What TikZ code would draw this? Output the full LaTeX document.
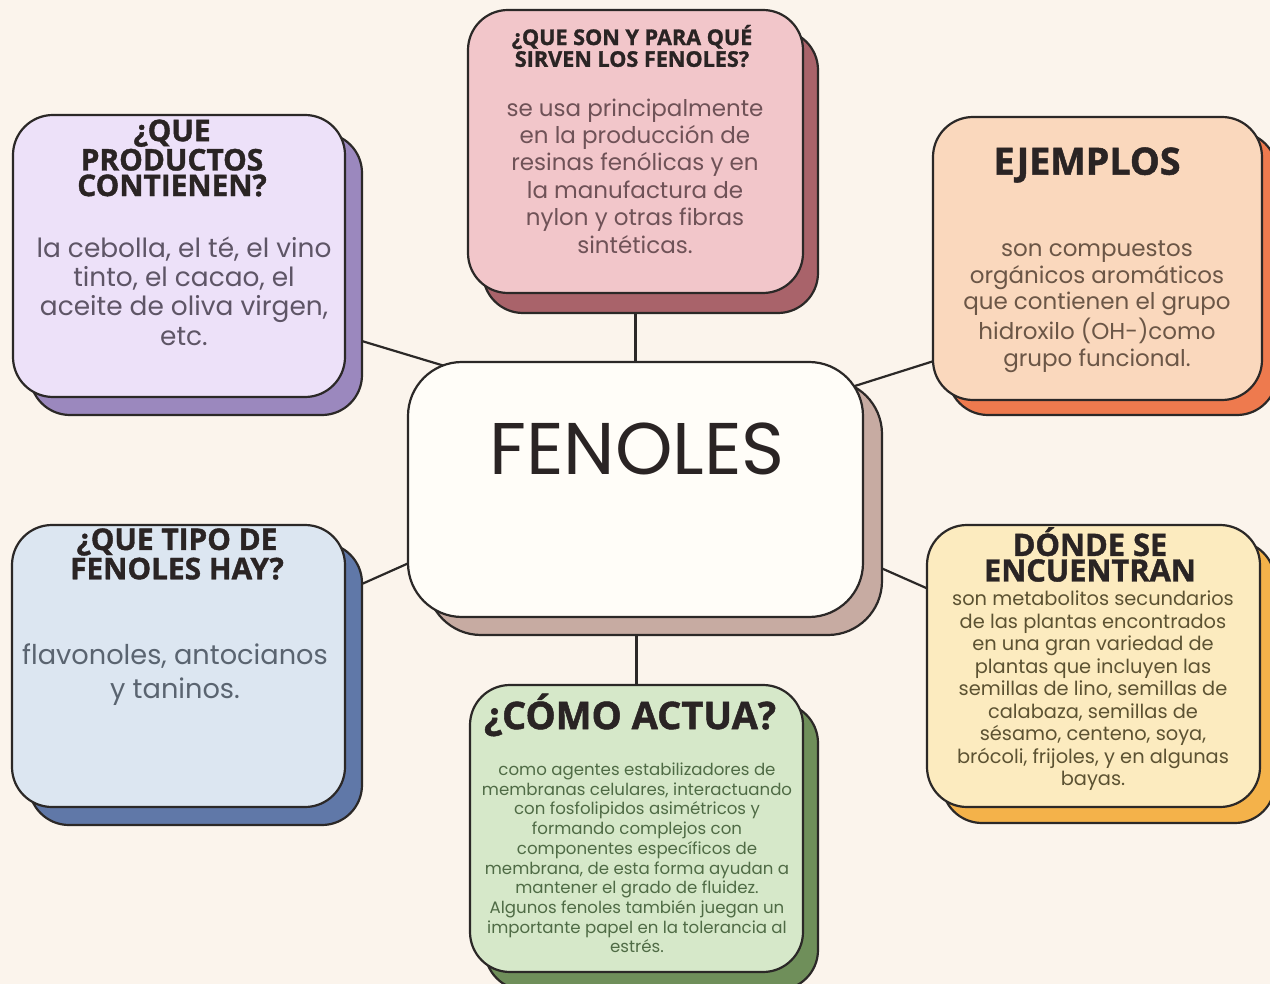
\documentclass[tikz,border=0pt]{standalone}
\usepackage{fontspec}
\setmainfont{Poppins}
\newfontfamily\titlefont{Open Sans}[BoldFeatures={FakeBold=1.3}]
\usetikzlibrary{calc}
\definecolor{bgc}{HTML}{FBF4EC}
\definecolor{linec}{HTML}{2B2827}
\definecolor{titlec}{HTML}{2A2424}
\definecolor{pinkF}{HTML}{F2C6CA}
\definecolor{pinkS}{HTML}{A9636A}
\definecolor{pinkT}{HTML}{6F5257}
\definecolor{purF}{HTML}{EDE1F9}
\definecolor{purS}{HTML}{9B88BE}
\definecolor{purT}{HTML}{5E5566}
\definecolor{oraF}{HTML}{FAD8BD}
\definecolor{oraS}{HTML}{EE7A4E}
\definecolor{oraT}{HTML}{6B5646}
\definecolor{yelF}{HTML}{FCEBBF}
\definecolor{yelS}{HTML}{F4B24A}
\definecolor{yelT}{HTML}{5C5232}
\definecolor{greF}{HTML}{D6E8C9}
\definecolor{greS}{HTML}{6F8F5A}
\definecolor{greT}{HTML}{4F6B45}
\definecolor{bluF}{HTML}{DCE6F1}
\definecolor{bluS}{HTML}{6078A8}
\definecolor{bluT}{HTML}{5A6470}
\definecolor{cenF}{HTML}{FFFDF8}
\definecolor{cenS}{HTML}{C7ABA2}
\pgfdeclarelayer{back}
\pgfdeclarelayer{bg}
\pgfsetlayers{back,bg,main}
\begin{document}
\begin{tikzpicture}[x=0.5pt,y=-0.5pt,
  cardfront/.style={draw=linec, line width=1.1pt, rounded corners=20pt, inner sep=0pt, outer sep=0pt},
  cardshadow/.style={draw=linec, line width=1.1pt, rounded corners=20pt, inner sep=0pt, outer sep=0pt},
  conn/.style={draw=linec, line width=1.1pt},
  ttl/.style={align=center, inner sep=0pt, text=titlec},
  body/.style={align=center, inner sep=0pt}]
\begin{pgfonlayer}{back}
\fill[bgc] (0,0) rectangle (1270,984);
\end{pgfonlayer}
\useasboundingbox (0,0) rectangle (1270,984);

% pink
\node[cardshadow, fill=pinkS, minimum width=167.5pt, minimum height=141.5pt] (ps) at (650.5,171.5) {};
\node[cardfront, fill=pinkF, minimum width=167.5pt, minimum height=141.5pt] (p) at (635.5,151.5) {};
\node[ttl, font={\titlefont\bfseries\fontsize{10.8}{8.7}\selectfont}] (pt) at (632,46) {¿QUE SON Y PARA QUÉ\\SIRVEN LOS FENOLES?};
\node[body, text=pinkT, font={\fontsize{11.5}{13.7}\selectfont}] (pb) at (635,176) {se usa principalmente\\en la producción de\\resinas fenólicas y en\\la manufactura de\\nylon y otras fibras\\sintéticas.};

% purple
\node[cardshadow, fill=purS, minimum width=166pt, minimum height=141pt] (us) at (196,274) {};
\node[cardfront, fill=purF, minimum width=166pt, minimum height=141pt] (u) at (179,256) {};
\node[ttl, font={\titlefont\bfseries\fontsize{14.9}{12.8}\selectfont}] (ut) at (172,158) {¿QUE\\PRODUCTOS\\CONTIENEN?};
\node[body, text=purT, font={\fontsize{13.2}{14.6}\selectfont}] (ub) at (184,291) {la cebolla, el té, el vino\\tinto, el cacao, el\\aceite de oliva virgen,\\etc.};

% orange
\node[cardshadow, fill=oraS, minimum width=164.5pt, minimum height=141.5pt] (os) at (1112.5,273.5) {};
\node[cardfront, fill=oraF, minimum width=164.5pt, minimum height=141.5pt] (o) at (1097.5,258.5) {};
\node[ttl, font={\titlefont\bfseries\fontsize{18.8}{18}\selectfont}] (ot) at (1087,165) {EJEMPLOS};
\node[body, text=oraT, font={\fontsize{11.5}{13.3}\selectfont}] (ob) at (1097,306.5) {son compuestos\\orgánicos aromáticos\\que contienen el grupo\\hidroxilo (OH-)como\\grupo funcional.};

% yellow
\node[cardshadow, fill=yelS, minimum width=166.5pt, minimum height=141pt] (ys) at (1108.5,682) {};
\node[cardfront, fill=yelF, minimum width=166.5pt, minimum height=141pt] (y) at (1093.5,666) {};
\node[ttl, font={\titlefont\bfseries\fontsize{15.4}{12.8}\selectfont}] (yt) at (1090,554.5) {DÓNDE SE\\ENCUENTRAN};
\node[body, text=yelT, font={\fontsize{9.7}{11.25}\selectfont}] (yb) at (1093,691) {son metabolitos secundarios\\de las plantas encontrados\\en una gran variedad de\\plantas que incluyen las\\semillas de lino, semillas de\\calabaza, semillas de\\sésamo, centeno, soya,\\brócoli, frijoles, y en algunas\\bayas.};

% green
\node[cardshadow, fill=greS, minimum width=166.5pt, minimum height=143.5pt] (gs) at (651.5,846.5) {};
\node[cardfront, fill=greF, minimum width=166.5pt, minimum height=143.5pt] (g) at (636.5,828.5) {};
\node[ttl, font={\titlefont\bfseries\fontsize{19}{19}\selectfont}] (gt) at (630,715) {¿CÓMO ACTUA?};
\node[body, text=greT, font={\fontsize{8.3}{9.85}\selectfont}] (gb) at (637,858) {como agentes estabilizadores de\\membranas celulares, interactuando\\con fosfolipidos asimétricos y\\formando complejos con\\componentes específicos de\\membrana, de esta forma ayudan a\\mantener el grado de fluidez.\\Algunos fenoles también juegan un\\importante papel en la tolerancia al\\estrés.};

% blue
\node[cardshadow, fill=bluS, minimum width=166.5pt, minimum height=141pt] (bs) at (195.5,684) {};
\node[cardfront, fill=bluF, minimum width=166.5pt, minimum height=141pt] (b) at (178.5,666) {};
\node[ttl, font={\titlefont\bfseries\fontsize{14.9}{11.2}\selectfont}] (bt) at (177,554) {¿QUE TIPO DE\\FENOLES HAY?};
\node[body, text=bluT, font={\fontsize{13.6}{17}\selectfont}] (bb) at (175,675) {flavonoles, antocianos\\y taninos.};

% center
\node[cardshadow, fill=cenS, rounded corners=27pt, minimum width=227.5pt, minimum height=127.5pt] (cs) at (654.5,507.5) {};
\node[cardfront, fill=cenF, rounded corners=27pt, minimum width=227.5pt, minimum height=127.5pt] (c) at (635.5,489.5) {};
\node[ttl, font={\fontsize{36.6}{36}\selectfont}] (ct) at (637,449) {FENOLES};

\begin{pgfonlayer}{bg}
\draw[conn] (c.north) -- (c.north |- ps.south);
\draw[conn] (g.north) -- (g.north |- cs.south);
\draw[conn] (us.-22) -- ($(us.-22)!1.4!(c.148)$);
\draw[conn] ($(o.212)!1.4!(c.25)$) -- (o.212);
\draw[conn] (bs.31) -- ($(bs.31)!1.4!(c.198)$);
\draw[conn] (cs.-15) -- (y.155);
\end{pgfonlayer}
\end{tikzpicture}
\end{document}
